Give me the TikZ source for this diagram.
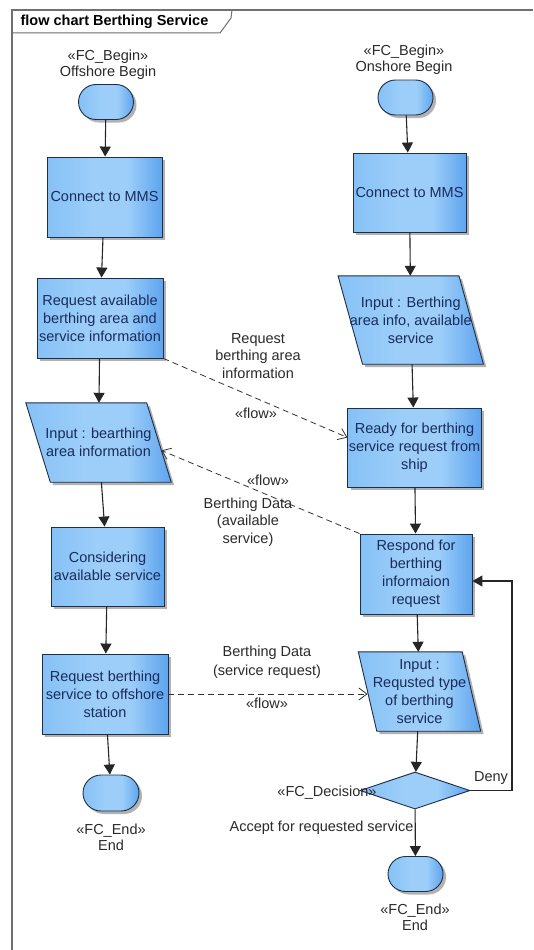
\documentclass[tikz,border=0pt]{standalone}
\usepackage{fontspec}
\setmainfont{Liberation Sans}
\usetikzlibrary{shapes.geometric,shapes.misc,arrows.meta,shadows,calc}
\definecolor{boxL}{HTML}{86C1F6}
\definecolor{boxM}{HTML}{9CCEF9}
\definecolor{boxR}{HTML}{5EA4EE}
\definecolor{boxline}{HTML}{1E2E46}
\definecolor{boxtxt}{HTML}{1A2B5C}
\definecolor{labtxt}{HTML}{2A2A2A}
\definecolor{framec}{HTML}{707070}
\pgfdeclarehorizontalshading{boxshade}{100bp}{color(0bp)=(boxL); color(25bp)=(boxL); color(45bp)=(boxM); color(60bp)=(boxM); color(75bp)=(boxR); color(100bp)=(boxR)}
\tikzset{
  shapefill/.style={draw=boxline, line width=0.9pt, shading=boxshade},
  base/.style={shapefill,
    drop shadow={shadow xshift=3pt, shadow yshift=-3pt, opacity=0.3, fill=black},
    text=boxtxt, font=\fontsize{14.5}{18}\selectfont, align=center, inner sep=1pt},
  procbox/.style={base, rectangle},
  iohold/.style={rectangle, draw=none, inner sep=0pt},
  iofill/.style={shapefill, drop shadow={shadow xshift=3pt, shadow yshift=-3pt, opacity=0.3, fill=black}},
  termbox/.style={base, rounded rectangle, minimum width=55pt, minimum height=35pt, inner sep=0pt},
  decbox/.style={shapefill, diamond, minimum width=110pt, minimum height=37pt, inner sep=0pt},
  boxtext/.style={text=boxtxt, font=\fontsize{14.5}{18}\selectfont, align=center, inner sep=0pt},
  lab/.style={text=labtxt, font=\fontsize{14.5}{16}\selectfont, align=center, inner sep=0pt},
  flowlab/.style={text=labtxt, font=\fontsize{14.5}{17.5}\selectfont, align=center, inner sep=0pt},
  flowarr/.style={draw=black!85, line width=1.1pt, -{Triangle[length=10pt,width=11pt]}},
  dflow/.style={draw=black!80, line width=0.8pt, dash pattern=on 6pt off 4pt, -{Straight Barb[length=8pt,width=12pt]}},
}
% name, x, y, side length, height, half slant, text
\newcommand{\iopara}[7]{%
  \node[iohold, minimum width=#4pt, minimum height=#5pt] (#1) at (#2,#3) {};
  \coordinate (#1tl) at ($(#1.north west)+(-#6,0)$);
  \coordinate (#1tr) at ($(#1.north east)+(-#6,0)$);
  \coordinate (#1br) at ($(#1.south east)+(#6,0)$);
  \coordinate (#1bl) at ($(#1.south west)+(#6,0)$);
  \path[iofill] (#1tl) -- (#1tr) -- (#1br) -- (#1bl) -- cycle;
  \node[boxtext] (#1t) at (#1.center) {#7};
}
\begin{document}
\begin{tikzpicture}[x=1pt,y=-1pt]
\useasboundingbox (0,0) rectangle (533,950);
\fill[white] (0,0) rectangle (533,950);
% frame
\draw[framec, line width=2pt] (12,950) -- (12,10) -- (533,10);
\draw[framec, line width=1pt] (12,33) -- (220,33) -- (231,18) -- (232,10);
\node[font=\bfseries\fontsize{14.5}{16}\selectfont, inner sep=0pt] (title) at (114.5,22) {flow chart Berthing Service};

% left column
\node[lab] (sb1l) at (108,65) {«FC\_Begin»\\Offshore Begin};
\node[termbox] (sb1) at (106,102) {};
\node[procbox, minimum width=115pt, minimum height=80pt] (c1) at (104.5,197) {Connect to MMS};
\node[procbox, minimum width=126pt, minimum height=80pt] (r1) at (100,318) {Request available\\berthing area and\\service information};
\iopara{inp1}{98.5}{442.5}{120.5}{79}{12.25}{Input : bearthing\\area information}
\node[procbox, minimum width=113pt, minimum height=79pt] (cons) at (107.5,566.5) {Considering\\available service};
\node[procbox, minimum width=126pt, minimum height=80pt] (rq) at (105,694) {Request berthing\\service to offshore\\station};
\node[termbox, minimum width=56pt, minimum height=36pt] (e1) at (111,793) {};
\node[lab] (e1l) at (111,837) {«FC\_End»\\End};

% right column
\node[lab] (sb2l) at (404,60) {«FC\_Begin»\\Onshore Begin};
\node[termbox] (sb2) at (405.5,97.5) {};
\node[procbox, minimum width=113pt, minimum height=79pt] (c2) at (409.5,192.5) {Connect to MMS};
\iopara{inp2}{410.75}{320}{120.5}{88}{12.25}{Input : Berthing\\area info, available\\service}
\node[procbox, minimum width=133pt, minimum height=79pt] (rdy) at (414.5,447.5) {Ready for berthing\\service request from\\ship};
\node[procbox, minimum width=112pt, minimum height=80pt] (resp) at (416,574) {Respond for\\berthing\\informaion\\request};
\iopara{inp3}{419.5}{691.5}{103.5}{79}{9.25}{Input :\\Requsted type\\of berthing\\service}
\node[decbox] (dec) at (415,790.5) {};
\node[lab] (decl) at (327,793) {«FC\_Decision»};
\node[lab] (accl) at (321.5,828) {Accept for requested service};
\node[termbox] (e2) at (415.5,874) {};
\node[lab] (e2l) at (415,917.5) {«FC\_End»\\End};
\node[lab] (denyl) at (491,778) {Deny};
\coordinate (dn) at (512,790.5);

% solid connectors
\draw[flowarr] (sb1) -- (c1);
\draw[flowarr] (c1) -- (r1);
\draw[flowarr] (r1) -- (inp1);
\draw[flowarr] (inp1) -- (cons);
\draw[flowarr] (cons) -- (rq);
\draw[flowarr] (rq) -- (e1);
\draw[flowarr] (sb2) -- (c2);
\draw[flowarr] (c2) -- (inp2);
\draw[flowarr] (inp2) -- (rdy);
\draw[flowarr] (rdy) -- (resp);
\draw[flowarr] (resp) -- (inp3);
\draw[flowarr] (inp3) -- (dec);
\draw[flowarr] (dec) -- (e2);
\draw[flowarr] (dec.east) -- (dn) |- ($(resp.east)+(0,7)$);

% dashed flows
\draw[dflow] (r1.south east) -- ($(rdy.west)+(0,-10)$);
\draw[dflow] (resp.north west) -- ($(inp1tr)!0.6!(inp1br)$);
\draw[dflow] (rq.east) -- (rq.east -| inp3.west);

% flow labels
\node[flowlab] (f1l) at (258,356) {Request\\berthing area\\information};
\node[flowlab] (f1s) at (256,413) {«flow»};
\node[flowlab] (f2s) at (268,480) {«flow»};
\node[flowlab] (f2l) at (248,522) {Berthing Data\\(available\\service)};
\node[flowlab, font=\fontsize{14.5}{19}\selectfont] (f3l) at (267,662.5) {Berthing Data\\(service request)};
\node[flowlab] (f3s) at (267,703) {«flow»};
\end{tikzpicture}
\end{document}
